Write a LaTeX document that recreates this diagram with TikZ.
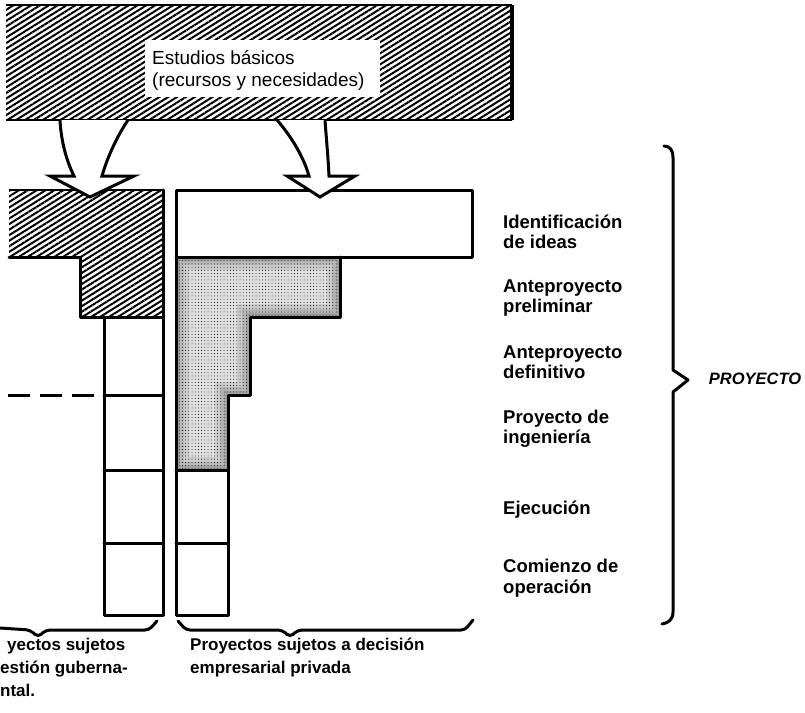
\documentclass[tikz,border=0pt]{standalone}
\usepackage{fontspec}
\setmainfont{Liberation Sans}
\usetikzlibrary{patterns.meta}
\begin{document}
\begin{tikzpicture}[x=1pt,y=-1pt,
  hatch/.style={pattern={Lines[angle=32,distance=4.7pt,line width=2pt]}},
  edge/.style={line width=3pt, line cap=round, line join=round},
  thin/.style={line width=1.2pt},
  lbl/.style={anchor=west, align=left, font=\fontsize{18.5}{20.5}\selectfont\bfseries, inner sep=0pt},
  btxt/.style={anchor=north west, align=left, font=\fontsize{17}{22.5}\selectfont\bfseries, inner sep=0pt},
  arrowbody/.style={fill=white, draw=black, line width=3pt, line join=miter}]
\useasboundingbox (0,0) rectangle (805,712);

% top band
\fill[hatch] (6,5) rectangle (512,120);
\fill[white] (145,40) rectangle (380,97);
\draw[thin] (6,5) -- (512,5);
\draw[thin] (6,120) -- (512,120);
\draw[line width=4pt] (512,5) -- (512,120);
\node[anchor=west, align=left, inner sep=0pt, font=\fontsize{19}{22}\selectfont] (top) at (152,70) {Estudios básicos\\(recursos y necesidades)};

% left column (hatched)
\fill[hatch] (9,190) rectangle (163,257);
\fill[hatch] (80,257) rectangle (163,317);
\draw[thin] (9,190) -- (163,190);
\draw[edge] (9,257) -- (80,257) -- (80,317) -- (163,317);
\draw[edge] (163,190) -- (163,615) -- (104,615) -- (104,317);
\draw[edge] (104,395) -- (163,395);
\draw[edge] (104,470) -- (163,470);
\draw[edge] (104,543) -- (163,543);
\draw[line width=3pt, dash pattern=on 22pt off 10pt] (8,395) -- (100,395);

% right column (stippled)
\begin{scope}
\clip (176,257) -- (340,257) -- (340,317) -- (250,317) -- (250,395) -- (228,395) -- (228,470) -- (176,470) -- cycle;
\fill[black!12] (170,250) rectangle (350,480);
\draw[black!20, line width=26pt] (176,257) -- (340,257) -- (340,317) -- (250,317) -- (250,395) -- (228,395) -- (228,470) -- (176,470) -- cycle;
\draw[black!28, line width=16pt] (176,257) -- (340,257) -- (340,317) -- (250,317) -- (250,395) -- (228,395) -- (228,470) -- (176,470) -- cycle;
\draw[black!36, line width=8pt] (176,257) -- (340,257) -- (340,317) -- (250,317) -- (250,395) -- (228,395) -- (228,470) -- (176,470) -- cycle;
\fill[pattern={Dots[distance=3.2pt,radius=0.5pt]}] (170,250) rectangle (350,480);
\end{scope}
\draw[edge] (472,257) -- (472,190) -- (176,190) -- (176,615) -- (228,615) -- (228,395) -- (250,395) -- (250,317) -- (340,317) -- (340,257);
\draw[edge] (176,257) -- (472,257);
\draw[edge] (176,470) -- (228,470);
\draw[edge] (176,543) -- (228,543);

% arrows
\draw[arrowbody] (60,120) .. controls (61,140) and (66,160) .. (74,176) -- (50,176) -- (90,197) -- (134,176) -- (102,176) .. controls (108,155) and (118,135) .. (128,120);
\draw[arrowbody] (277,120) .. controls (290,135) and (303,155) .. (309,176) -- (287,176) -- (320,197) -- (355,176) -- (329,176) .. controls (328,155) and (326,135) .. (325,120);

% labels
\node[lbl] (l1) at (503,232) {Identificación\\de ideas};
\node[lbl] (l2) at (503,298) {Anteproyecto\\preliminar};
\node[lbl] (l3) at (503,362) {Anteproyecto\\definitivo};
\node[lbl] (l4) at (503,429) {Proyecto de\\ingeniería};
\node[lbl] (l5) at (503,510) {Ejecución};
\node[lbl] (l6) at (503,578) {Comienzo de\\operación};

% big brace
\draw[edge] (664,146) .. controls (670,146) and (673,150) .. (673,158) -- (673,370) -- (688,380) -- (673,392) -- (673,612) .. controls (673,620) and (668,623) .. (662,624);
\node[anchor=center, inner sep=0pt, font=\fontsize{16.5}{18}\selectfont\bfseries\itshape] (proy) at (755,379) {PROYECTO};

% bottom braces
\draw[edge, rounded corners=4pt] (0,628) -- (30,630) -- (38,637) -- (46,630) -- (149,630) -- (157,621);
\draw[edge, rounded corners=4pt] (178,621) -- (186,630) -- (282,630) -- (290,637) -- (298,630) -- (465,630) -- (473,620);

% bottom texts
\node[btxt] (bl1) at (7,638) {yectos sujetos};
\node[btxt] (bl2) at (0,661) {estión guberna-\\ntal.};
\node[btxt] (br) at (190,638) {Proyectos sujetos a decisión\\empresarial privada};
\end{tikzpicture}
\end{document}
